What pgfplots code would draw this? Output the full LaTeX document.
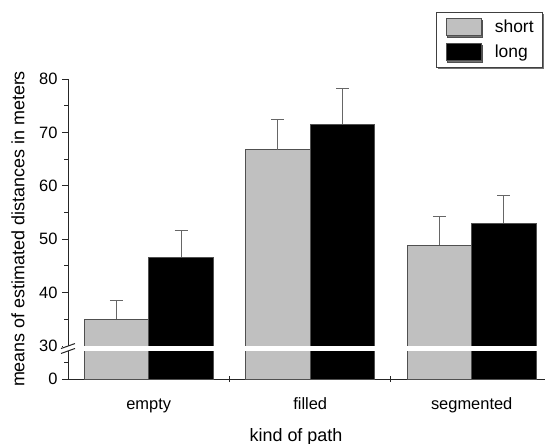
\documentclass[border=0pt]{standalone}
\usepackage{pgfplots}
\pgfplotsset{compat=1.18}
\usepackage{fontspec}
\setmainfont{Liberation Sans}
\usetikzlibrary{shadows}
\definecolor{barshort}{HTML}{C0C0C0}
\definecolor{edge}{HTML}{505050}
\definecolor{errc}{HTML}{666666}
\begin{document}
\begin{tikzpicture}
\begin{axis}[
  at={(68bp,65bp)}, anchor=south west,
  scale only axis, width=477bp, height=300bp,
  clip=false,
  ybar,
  xmin=-0.5, xmax=2.454,
  ymin=0, ymax=80,
  y coord trafo/.code={\pgfmathparse{#1>=30 ? #1-23.83 : #1*6.17/30}},
  y coord inv trafo/.code={\pgfmathparse{#1>=6.17 ? #1+23.83 : #1*30/6.17}},
  axis x line*=bottom, axis y line*=left,
  axis line style={line width=1bp, black!85, -},
  ytick={0,30,40,50,60,70,80},
  yticklabels={0,30,40,50,60,70,80},
  minor ytick={15,35,45,55,65,75},
  tick align=outside,
  major tick length=6bp, minor tick length=3.5bp,
  every tick/.style={line width=1bp, black!85},
  xtick={0,1,2},
  xticklabels={empty,filled,segmented},
  major x tick style={draw=none},
  extra x ticks={0.5,1.5},
  extra x tick labels={},
  extra x tick style={major x tick style={draw=black!85, line width=1bp}, tick align=center},
  xticklabel style={anchor=base, yshift=-24bp, font=\fontsize{16.5}{19}\selectfont},
  yticklabel style={font=\fontsize{16.5}{19}\selectfont, xshift=-1bp},
  xlabel={kind of path},
  ylabel={means of estimated distances in meters},
  every axis x label/.style={at={(axis description cs:0.478,-0.207)}, anchor=base, font=\fontsize{18}{21}\selectfont},
  every axis y label/.style={at={(axis description cs:-0.105,0.5)}, rotate=90, anchor=center, font=\fontsize{18}{21}\selectfont},
  bar width=0.4,
  legend style={at={(axis description cs:0.9958,1.2233)}, anchor=north east,
    draw=black!75, line width=0.8bp, fill=white,
    drop shadow={shadow xshift=1.5bp, shadow yshift=-1.5bp, fill=black!55, opacity=1},
    nodes={font=\fontsize{17.5}{20}\selectfont, inner sep=0bp},
    inner xsep=9bp, inner ysep=6bp,
    row sep=7bp, cells={anchor=west},
    /tikz/every odd column/.append style={column sep=13bp}},
  legend image code/.code={\draw[#1] (0bp,-8.5bp) rectangle (35bp,8.5bp);},
  error bars/y dir=plus, error bars/y explicit,
  error bars/error bar style={line width=1bp, errc},
  error bars/error mark options={rotate=90, mark size=6.5bp, line width=1bp, errc},
]
\addplot[ybar, bar shift=-0.2, fill=barshort, draw=edge, line width=1bp]
  coordinates {(0,35.0) +- (0,3.5) (1,66.8) +- (0,5.7) (2,48.9) +- (0,5.4)};
\addlegendentry{short}
\addplot[ybar, bar shift=0.2, fill=black, draw=edge, line width=1bp]
  coordinates {(0,46.6) +- (0,5.0) (1,71.5) +- (0,6.8) (2,53.0) +- (0,5.1)};
\addlegendentry{long}
\fill[white] (axis cs:-0.53,25.5) rectangle (axis cs:2.454,30);
\draw[line width=1bp, black!85] (axis cs:-0.5,30) ++(-7bp,-2.5bp) -- ++(14bp,5bp);
\draw[line width=1bp, black!85] (axis cs:-0.5,25.5) ++(-7bp,-2.5bp) -- ++(14bp,5bp);
\end{axis}
\pgfresetboundingbox
\useasboundingbox (0,0) rectangle (545bp,444bp);
\end{tikzpicture}
\end{document}
